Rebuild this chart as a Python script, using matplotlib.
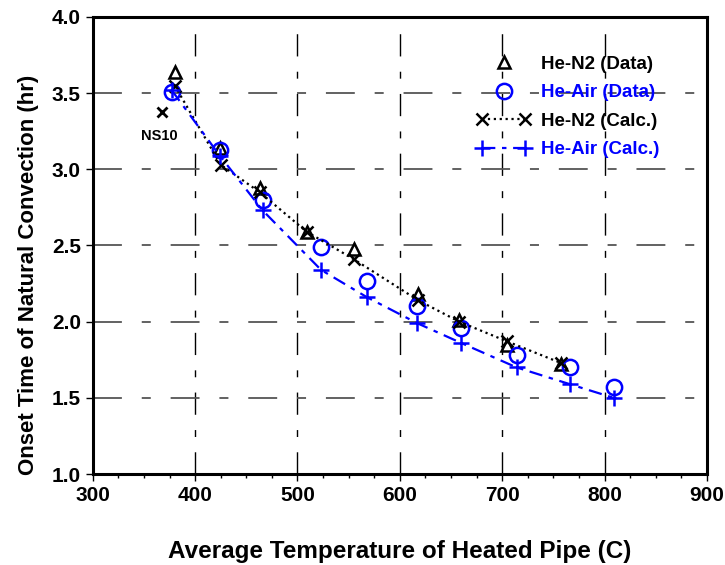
import numpy as np
import matplotlib
matplotlib.use("Agg")
import matplotlib.pyplot as plt
from matplotlib.legend_handler import HandlerLine2D
from matplotlib.ticker import MultipleLocator

plt.rcParams["font.family"] = ["Liberation Sans", "DejaVu Sans"]
plt.rcParams["font.weight"] = "bold"

# data
temp_n2_data = [380, 424, 463, 509, 555, 618, 658, 705, 757]
onset_n2_data = [3.64, 3.14, 2.88, 2.59, 2.48, 2.18, 2.01, 1.85, 1.72]

temp_air_data = [377, 424, 466, 523, 568, 617, 660, 714, 766, 809]
onset_air_data = [3.51, 3.13, 2.80, 2.49, 2.27, 2.10, 1.96, 1.78, 1.70, 1.57]

temp_n2_calc = [380, 425, 463, 509, 555, 618, 658, 705, 757]
onset_n2_calc = [3.55, 3.03, 2.85, 2.59, 2.41, 2.14, 2.00, 1.87, 1.73]

temp_air_calc = [377, 424, 466, 523, 568, 617, 660, 714, 766, 809]
onset_air_calc = [3.52, 3.09, 2.73, 2.34, 2.16, 1.99, 1.86, 1.70, 1.59, 1.50]

ns10_temp = [368]
ns10_onset = [3.375]

fig = plt.figure(figsize=(7.25, 5.65), dpi=100)
ax = fig.add_axes([0.128, 0.161, 0.847, 0.809])

# grid
dash = (0, (16, 11, 5, 11))
for x in [400, 500, 600, 700, 800]:
    ax.axvline(x, color="black", lw=1.0, linestyle=dash, zorder=0)
for y in [1.5, 2.0, 2.5, 3.0, 3.5]:
    ax.axhline(y, color="#555555", lw=1.3, linestyle=dash, zorder=0)

h1, = ax.plot(temp_n2_data, onset_n2_data, linestyle="none", marker="^",
              ms=9, mfc="none", mec="black", mew=1.8, label="He-N2 (Data)")
h2, = ax.plot(temp_air_data, onset_air_data, linestyle="none", marker="o",
              ms=11, mfc="none", mec="blue", mew=1.8, label="He-Air (Data)")
h3, = ax.plot(temp_n2_calc, onset_n2_calc, color="black", linestyle=":", lw=1.6,
              marker="x", ms=8, mew=1.8, label="He-N2 (Calc.)")
h4, = ax.plot(temp_air_calc, onset_air_calc, color="blue", linestyle=(0, (6, 3, 2, 3)),
              lw=1.6, marker="+", ms=11, mew=1.8, label="He-Air (Calc.)")
ax.plot(ns10_temp, ns10_onset, linestyle="none", marker="x", color="black",
        ms=7, mew=2)
ax.text(365, 3.22, "NS10", ha="center", va="center", fontsize=10.5, fontweight="bold")

ax.set_xlim(300, 900)
ax.set_ylim(1.0, 4.0)
ax.xaxis.set_major_locator(MultipleLocator(100))
ax.xaxis.set_minor_locator(MultipleLocator(25))
ax.yaxis.set_major_locator(MultipleLocator(0.5))
ax.yaxis.set_major_formatter(matplotlib.ticker.FormatStrFormatter("%.1f"))
ax.tick_params(axis="both", which="major", direction="out", length=5, width=1,
               labelsize=15)
ax.tick_params(axis="x", which="minor", direction="out", length=3, width=1)
for lab in ax.get_xticklabels() + ax.get_yticklabels():
    lab.set_fontweight("bold")
for s in ax.spines.values():
    s.set_linewidth(2.2)

ax.set_xlabel("Average Temperature of Heated Pipe (C)", fontsize=17.5,
              fontweight="bold", labelpad=25)
ax.set_ylabel("Onset Time of Natural Convection (hr)", fontsize=16,
              fontweight="bold")
ax.yaxis.set_label_coords(-0.088, 0.435)

leg = fig.legend(handles=[h1, h2, h3, h4], loc="upper left", frameon=False,
                 numpoints=2, fontsize=13.5, handlelength=2.89, handletextpad=0.53,
                 labelspacing=0.61, borderpad=0.385,
                 bbox_to_anchor=(460 / 725, 1 - 39 / 565),
                 handler_map={h1: HandlerLine2D(numpoints=1),
                              h2: HandlerLine2D(numpoints=1)})
for t, c in zip(leg.get_texts(), ["black", "blue", "black", "blue"]):
    t.set_color(c)
    t.set_fontweight("bold")

fig.savefig("out.png", dpi=100)
